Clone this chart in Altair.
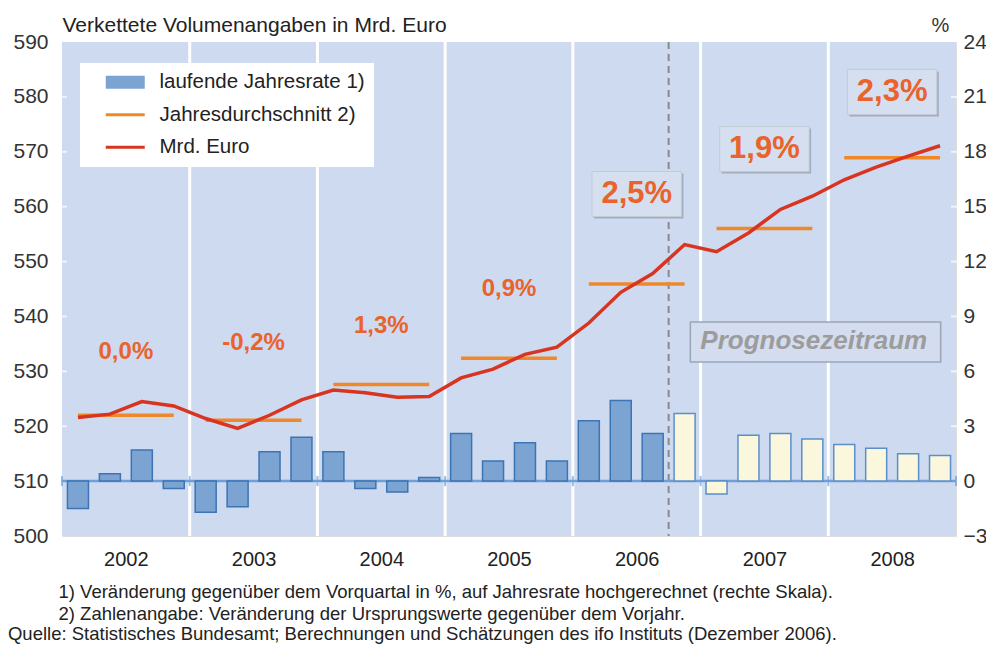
import altair as alt
import pandas as pd

# ---------------- data ----------------
years = [2002, 2003, 2004, 2005, 2006, 2007, 2008]
# laufende Jahresrate (% , right scale), one value per quarter 2002Q1..2008Q4
quarter_rate = [-1.5, 0.4, 1.7, -0.4,
                -1.7, -1.4, 1.6, 2.4,
                1.6, -0.4, -0.6, 0.2,
                2.6, 1.1, 2.1, 1.1,
                3.3, 4.4, 2.6, 3.7,
                -0.7, 2.5, 2.6, 2.3,
                2.0, 1.8, 1.5, 1.4]
# Mrd. Euro (left scale)
quarter_level = [521.6, 522.2, 524.5, 523.7,
                 521.4, 519.6, 522.0, 524.8,
                 526.6, 526.1, 525.3, 525.4,
                 528.8, 530.4, 533.1, 534.4,
                 538.8, 544.4, 547.8, 553.1,
                 551.8, 555.2, 559.5, 561.9,
                 564.9, 567.2, 569.2, 571.1]
first_forecast_quarter = 19  # 2006 Q4
# Jahresdurchschnitt (left scale)
year_avg = [522.0, 521.1, 527.6, 532.4, 545.9, 556.0, 568.9]
year_change = ["0,0%", "-0,2%", "1,3%", "0,9%", "2,5%", "1,9%", "2,3%"]
change_label_level = [533.6, 535.2, 538.2, 545.0, 562.3, 570.5, 580.9]
first_boxed_year = 2006
forecast_boundary = [2006.75]

legend_names = ["laufende Jahresrate 1)", "Jahresdurchschnitt 2)", "Mrd. Euro"]
left_ticks = [500, 510, 520, 530, 540, 550, 560, 570, 580, 590]
right_ticks = [-3, 0, 3, 6, 9, 12, 15, 18, 21, 24]

prognose_text = ["Prognosezeitraum"]
prognose_x = [2007.886]
prognose_y = [535.5]
prognose_box_x = [2006.92, 2008.88]
prognose_box_y = [531.7, 539.0]

title_left = "Verkettete Volumenangaben in Mrd. Euro"
fn1 = "1) Veränderung gegenüber dem Vorquartal in %, auf Jahresrate hochgerechnet (rechte Skala)."
fn2 = "2) Zahlenangabe: Veränderung der Ursprungswerte gegenüber dem Vorjahr."
source = "Quelle: Statistisches Bundesamt; Berechnungen und Schätzungen des ifo Instituts (Dezember 2006)."

# ---------------- styles ----------------
FONT = "Liberation Sans"
BG = "#cddaef"
BLUE_FILL = "#7ba4d3"
BLUE_STROKE = "#3d74b3"
CREAM_FILL = "#faf7dd"
CREAM_STROKE = "#5b8fc9"
BASE_BLUE = "#6f9fd6"
ORANGE = "#f0882a"
RED = "#d8341f"
LABEL_RED = "#e9632b"

# ---------------- tables ----------------
qdf = pd.DataFrame({
    "t": [years[i // 4] + (i % 4) * 0.25 + 0.125 for i in range(len(quarter_rate))],
    "rate": quarter_rate,
    "level": quarter_level,
    "forecast": [i >= first_forecast_quarter for i in range(len(quarter_rate))],
})
ydf = pd.DataFrame({"year": years, "avg": year_avg, "label": year_change, "lab_y": change_label_level})
ydf["x0"] = ydf["year"] + 0.125
ydf["x1"] = ydf["year"] + 0.875
ydf["xc"] = ydf["year"] + 0.5
ydf["bx0"] = ydf["xc"] - 0.35
ydf["bx1"] = ydf["xc"] + 0.35
ydf["by0"] = ydf["lab_y"] - 4.1
ydf["by1"] = ydf["lab_y"] + 4.1
small_lab = ydf[ydf["year"] < first_boxed_year]
big_lab = ydf[ydf["year"] >= first_boxed_year]

bounds_df = pd.DataFrame({"b": years[1:]})
ticks_df = pd.DataFrame({"b": years + [years[-1] + 1]})
fc_df = pd.DataFrame({"b": forecast_boundary})
prog_df = pd.DataFrame({"txt": prognose_text, "x": prognose_x, "y": prognose_y,
                        "x0": [prognose_box_x[0]], "x1": [prognose_box_x[1]],
                        "y0": [prognose_box_y[0]], "y1": [prognose_box_y[1]]})
legend_df = pd.DataFrame({"series": legend_names})
one_row = pd.DataFrame({"k": [0]})
ltick_df = pd.DataFrame({"v": left_ticks[1:-1]})

# ---------------- scales / axes ----------------
xscale = alt.Scale(domain=[years[0], years[-1] + 1], nice=False, zero=False, padding=0)
xaxis = alt.Axis(values=[y + 0.5 for y in years], labelExpr="'' + floor(datum.value)",
                 ticks=False, domain=False, grid=False, labelFontSize=20, labelColor="#222",
                 labelPadding=13, labelFont=FONT,
                 title=[fn1, fn2], titleAlign="left", titleAnchor="start", titleX=-4, titleY=61,
                 titleBaseline="alphabetic", titleLineHeight=22, titleFontSize=18.5,
                 titleFontWeight="normal", titleColor="#222", titleFont=FONT)
lscale = alt.Scale(domain=[left_ticks[0], left_ticks[-1]], nice=False, zero=False, padding=0)
laxis = alt.Axis(values=left_ticks, orient="left", ticks=False, domain=False, grid=False,
                 labelFontSize=21, labelColor="#333", labelPadding=14, labelFont=FONT,
                 title=title_left, titleAngle=0, titleAlign="left", titleAnchor="start",
                 titleX=0, titleY=-11, titleBaseline="alphabetic", titleFontSize=21,
                 titleFontWeight="normal", titleColor="#222", titleFont=FONT)
rscale = alt.Scale(domain=[right_ticks[0], right_ticks[-1]], nice=False, zero=False, padding=0)
raxis = alt.Axis(values=right_ticks, orient="right", ticks=False, domain=False, grid=False,
                 labelFontSize=21, labelColor="#333", labelPadding=7, labelFont=FONT,
                 title="%", titleAngle=0, titleAlign="center", titleX=-16, titleY=-11,
                 titleBaseline="alphabetic", titleFontSize=20, titleFontWeight="normal",
                 titleColor="#333", titleFont=FONT)


def X(field):
    return alt.X(field, type="quantitative", scale=xscale, axis=xaxis)


def YL(field):
    return alt.Y(field, type="quantitative", scale=lscale, axis=laxis)


# ---------------- left-scale layers ----------------
plot_bg = alt.Chart(one_row).mark_rect(color=BG).encode(
    x=alt.X(datum=years[0], type="quantitative", scale=xscale, axis=xaxis),
    x2=alt.datum(years[-1] + 1),
    y=alt.Y(datum=left_ticks[0], type="quantitative", scale=lscale, axis=laxis),
    y2=alt.datum(left_ticks[-1]),
)
year_rules = alt.Chart(bounds_df).mark_rule(color="white", strokeWidth=3).encode(x=X("b"))
edge_ticks_l = alt.Chart(ltick_df).mark_tick(orient="horizontal", size=10, thickness=2, color="white").encode(
    x=alt.X(datum=years[0], type="quantitative", scale=xscale, axis=xaxis), y=YL("v"))
edge_ticks_r = alt.Chart(ltick_df).mark_tick(orient="horizontal", size=10, thickness=2, color="white").encode(
    x=alt.X(datum=years[-1] + 1, type="quantitative", scale=xscale, axis=xaxis), y=YL("v"))
fc_rule = alt.Chart(fc_df).mark_rule(color="#8a8a8a", strokeWidth=2, strokeDash=[7, 5]).encode(x=X("b"))

prog_box = alt.Chart(prog_df).mark_rect(fill="#d3ddef", stroke="#9aa5b6", strokeWidth=1.5).encode(
    x=X("x0"), x2="x1", y=YL("y0"), y2="y1")
prog_txt = alt.Chart(prog_df).mark_text(font=FONT, fontSize=26, fontWeight="bold", fontStyle="italic",
                                        color="#9c9c9c", baseline="middle", align="center").encode(
    x=X("x"), y=YL("y"), text="txt:N")

box_shadow = alt.Chart(big_lab).mark_rect(fill="#a3acba", xOffset=2, x2Offset=2, yOffset=2, y2Offset=2).encode(
    x=X("bx0"), x2="bx1", y=YL("by0"), y2="by1")
box = alt.Chart(big_lab).mark_rect(fill="#d5dff0", stroke="#c3cbd8", strokeWidth=1).encode(
    x=X("bx0"), x2="bx1", y=YL("by0"), y2="by1")
small_text = alt.Chart(small_lab).mark_text(font=FONT, fontSize=24, fontWeight="bold", color=LABEL_RED,
                                            baseline="middle", align="center").encode(
    x=X("xc"), y=YL("lab_y"), text="label:N")
big_text = alt.Chart(big_lab).mark_text(font=FONT, fontSize=31, fontWeight="bold", color=LABEL_RED,
                                        baseline="middle", align="center").encode(
    x=X("xc"), y=YL("lab_y"), text="label:N")

avg_rules = alt.Chart(ydf).mark_rule(color=ORANGE, strokeWidth=3.5).encode(x=X("x0"), x2="x1", y=YL("avg"))
level_line = alt.Chart(qdf).mark_line(color=RED, strokeWidth=3.5).encode(x=X("t"), y=YL("level"))

swatch = "M0.65,-0.65H4.55V0.65H0.65Z"
bar_line = "M0.65,-0.16H4.55V0.16H0.65Z"
leg = alt.Legend(title=None, orient="none", legendX=18, legendY=21, fillColor="white", padding=9,
                 labelFontSize=20.5, labelColor="#222", labelFont=FONT, labelLimit=400,
                 symbolSize=400, symbolStrokeWidth=0, symbolOpacity=1, rowPadding=11.5, labelOffset=50)
legend_layer = alt.Chart(legend_df).mark_point(filled=True, opacity=0).encode(
    color=alt.Color("series:N", scale=alt.Scale(domain=legend_names, range=[BLUE_FILL, ORANGE, RED]), legend=leg),
    shape=alt.Shape("series:N", scale=alt.Scale(domain=legend_names, range=[swatch, bar_line, bar_line]), legend=leg),
)

left_group = alt.layer(plot_bg, year_rules, edge_ticks_l, edge_ticks_r, fc_rule, prog_box, prog_txt,
                       box_shadow, box, small_text, big_text, avg_rules, level_line, legend_layer)

# ---------------- right-scale layers ----------------
def YR(field):
    return alt.Y(field, type="quantitative", scale=rscale, axis=raxis)


base_rule = alt.Chart(one_row).mark_rule(color=BASE_BLUE, strokeWidth=2.5).encode(
    y=alt.Y(datum=0, type="quantitative", scale=rscale, axis=raxis))
base_ticks = alt.Chart(ticks_df).mark_tick(orient="vertical", size=10, thickness=2, color=BASE_BLUE).encode(
    x=X("b"), y=alt.Y(datum=0, type="quantitative", scale=rscale, axis=raxis))
bars_hist = alt.Chart(qdf[~qdf["forecast"]]).mark_bar(size=21, fill=BLUE_FILL, stroke=BLUE_STROKE,
                                                     strokeWidth=1.5).encode(
    x=X("t"), y=YR("rate"), y2=alt.datum(0))
bars_fc = alt.Chart(qdf[qdf["forecast"]]).mark_bar(size=21, fill=CREAM_FILL, stroke=CREAM_STROKE,
                                                  strokeWidth=1.5).encode(
    x=X("t"), y=YR("rate"), y2=alt.datum(0))

right_group = alt.layer(base_rule, base_ticks, bars_hist, bars_fc)

chart = alt.layer(left_group, right_group).resolve_scale(y="independent").properties(
    width=894, height=494,
    autosize=alt.AutoSizeParams(type="none"),
    padding={"left": 54, "top": 34, "right": 30, "bottom": 110},
    title=alt.Title(source, orient="bottom", anchor="start", frame="bounds", fontSize=18.5,
                    fontWeight="normal", color="#222", font=FONT, offset=2, dx=-5),
).configure(font=FONT, background="white")

chart.save("out.html", embed_options={"renderer": "svg", "actions": False})
